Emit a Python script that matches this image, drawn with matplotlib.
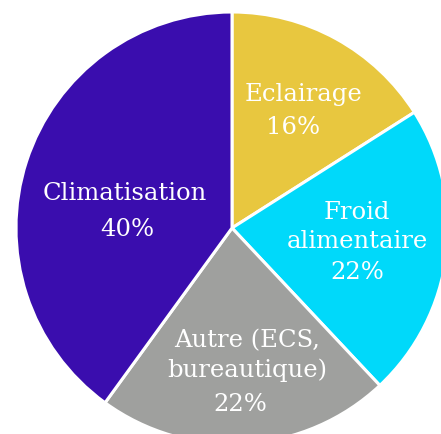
import matplotlib.pyplot as plt

labels = ['Eclairage', 'Froid\nalimentaire', 'Autre (ECS,\nbureautique)', 'Climatisation']
shares = [16, 22, 22, 40]
colors = ['#E8C73F', '#00D9FA', '#9FA09E', '#3A0DAE']
# where the name and the percentage sit, in pie-radius units
name_pos = [(0.333, 0.620), (0.579, 0.005), (0.069, -0.590), (-0.495, 0.162)]
pct_pos = [(0.282, 0.463), (0.579, -0.204), (0.037, -0.815), (-0.486, -0.009)]

fig = plt.figure(figsize=(4.41, 4.34), dpi=100)
ax = fig.add_axes([0, 0, 1, 1])

ax.pie(shares, colors=colors, startangle=90, counterclock=False, radius=1,
       wedgeprops=dict(edgecolor='white', linewidth=2.2))

for lab, val, (x, y), (px, py) in zip(labels, shares, name_pos, pct_pos):
    ax.text(x, y, lab, ha='center', va='center', color='white',
            fontsize=17.5, family='DejaVu Serif', linespacing=1.32)
    ax.text(px, py, f'{val}%', ha='center', va='center', color='white',
            fontsize=17.5, family='DejaVu Serif')

# pie centre at pixel (232, 228), radius 216 px
R = 216
ax.set_xlim(-232 / R, (441 - 232) / R)
ax.set_ylim(-(434 - 228) / R, 228 / R)
ax.set_aspect('auto')
ax.axis('off')

fig.savefig('out.png', dpi=100)
